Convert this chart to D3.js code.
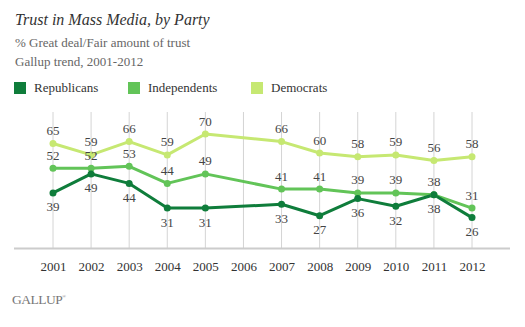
<!DOCTYPE html>
<html>
<head>
<meta charset="utf-8">
<script src="https://cdn.jsdelivr.net/npm/d3@7"></script>
<style>
  html, body { margin: 0; padding: 0; background: #fff; }
  svg { display: block; }
  text { font-family: "Liberation Serif", "DejaVu Serif", serif; }
</style>
</head>
<body>
<svg id="chart" width="525" height="327"></svg>
<script>
// Trust in mass media by party affiliation, Gallup trend
const years = [2001, 2002, 2003, 2004, 2005, 2007, 2008, 2009, 2010, 2011, 2012];
const tickYears = [2001, 2002, 2003, 2004, 2005, 2006, 2007, 2008, 2009, 2010, 2011, 2012];
const republicans = [39, 49, 44, 31, 31, 33, 27, 36, 32, 38, 26];
const independents = [52, 52, 53, 44, 49, 41, 41, 39, 39, 38, 31];
const democrats = [65, 59, 66, 59, 70, 66, 60, 58, 59, 56, 58];
const seriesNames = ["Republicans", "Independents", "Democrats"];
const seriesColors = ["#0f7d3b", "#62c458", "#c6e872"];

const svg = d3.select("#chart");

const x = d3.scaleLinear().domain([2001, 2012]).range([53, 472]);
const y = d3.scaleLinear().domain([10, 80]).range([248, 115]);

// Titles
svg.append("text").attr("x", 15).attr("y", 25)
  .attr("font-size", 16).attr("font-style", "italic").attr("fill", "#333")
  .text("Trust in Mass Media, by Party");
svg.append("text").attr("x", 15).attr("y", 47)
  .attr("font-size", 13).attr("fill", "#666")
  .text("% Great deal/Fair amount of trust");
svg.append("text").attr("x", 15).attr("y", 66)
  .attr("font-size", 13).attr("fill", "#666")
  .text("Gallup trend, 2001-2012");

// Legend
const legendX = [14, 128, 251];
const legend = svg.append("g");
seriesNames.forEach((name, i) => {
  legend.append("rect").attr("x", legendX[i]).attr("y", 82)
    .attr("width", 12).attr("height", 12).attr("fill", seriesColors[i]);
  legend.append("text").attr("x", legendX[i] + 20).attr("y", 92)
    .attr("font-size", 13).attr("fill", "#333").text(name);
});

// Vertical gridlines
svg.append("g").selectAll("line").data(tickYears).join("line")
  .attr("x1", d => x(d)).attr("x2", d => x(d))
  .attr("y1", 112).attr("y2", y(10))
  .attr("stroke", "#d4d4d4").attr("stroke-width", 1);

// X axis
const xAxis = d3.axisBottom(x).tickValues(tickYears).tickFormat(d3.format("d")).tickSize(0).tickPadding(14);
const axisG = svg.append("g").attr("transform", `translate(0,${y(10)})`).call(xAxis);
axisG.select(".domain").remove();
axisG.selectAll("text").attr("font-size", 13).attr("fill", "#333")
  .attr("font-family", "Liberation Serif, serif");
svg.append("line").attr("x1", 14).attr("x2", 510)
  .attr("y1", y(10) + 0.5).attr("y2", y(10) + 0.5)
  .attr("stroke", "#cccccc").attr("stroke-width", 2);

// Series lines, points and value labels
const data = [republicans, independents, democrats];
const labelOffset = [14, -13, -13];
const line = d3.line().x((d, i) => x(years[i])).y(d => y(d));

[1, 2, 0].forEach(s => {
  svg.append("path").datum(data[s])
    .attr("d", line).attr("fill", "none")
    .attr("stroke", seriesColors[s]).attr("stroke-width", 3)
    .attr("stroke-linejoin", "round");
});
[1, 2, 0].forEach(s => {
  svg.append("g").selectAll("circle").data(data[s]).join("circle")
    .attr("cx", (d, i) => x(years[i])).attr("cy", d => y(d))
    .attr("r", 3.5).attr("fill", seriesColors[s]);
});
[0, 1, 2].forEach(s => {
  svg.append("g").selectAll("text").data(data[s]).join("text")
    .attr("x", (d, i) => x(years[i])).attr("y", d => y(d) + labelOffset[s])
    .attr("dy", "0.35em").attr("text-anchor", "middle")
    .attr("font-size", 13).attr("fill", "#444").text(d => d);
});

// Logo
const logo = svg.append("text").attr("x", 12).attr("y", 304)
  .attr("font-size", 13.5).attr("fill", "#777").attr("letter-spacing", -0.5);
logo.append("tspan").text("GALLUP");
logo.append("tspan").attr("font-size", 5).attr("dy", -6).text("®");
</script>
</body>
</html>
